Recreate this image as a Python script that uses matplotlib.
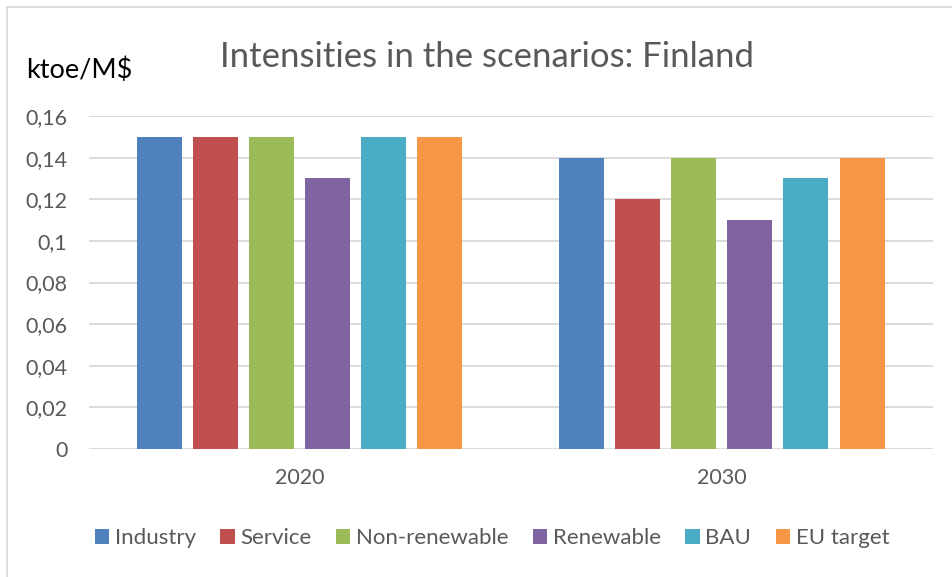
import matplotlib
matplotlib.use("Agg")
import matplotlib.pyplot as plt
import numpy as np

categories = ["2020", "2030"]
series = ["Industry", "Service", "Non-renewable", "Renewable", "BAU", "EU target"]
values = {
    "Industry": [0.15, 0.14],
    "Service": [0.15, 0.12],
    "Non-renewable": [0.15, 0.14],
    "Renewable": [0.13, 0.11],
    "BAU": [0.15, 0.13],
    "EU target": [0.15, 0.14],
}
colors = ["#4f81bd", "#c0504d", "#9bbb59", "#8064a2", "#4bacc6", "#f79646"]
yticks = [0, 0.02, 0.04, 0.06, 0.08, 0.1, 0.12, 0.14, 0.16]
ytick_labels = ["0", "0,02", "0,04", "0,06", "0,08", "0,1", "0,12", "0,14", "0,16"]

plt.rcParams['font.family'] = ['Lato', 'DejaVu Sans']
txt = "#595959"

fig = plt.figure(figsize=(9.53, 5.77), dpi=100)
W, H = 953, 577
ax = fig.add_axes([89 / W, 1 - 449 / H, (933 - 89) / W, (449 - 116) / H])

x = np.arange(len(categories))
step = 56 / 422
bw = 45 / 422
n = len(series)
for i, s in enumerate(series):
    off = (i - (n - 1) / 2) * step
    ax.bar(x + off, values[s], width=bw, color=colors[i], label=s, zorder=3)

ax.set_xlim(-0.5, 1.5)
ax.set_ylim(0, 0.16)
ax.set_yticks(yticks)
ax.set_yticklabels(ytick_labels)
ax.set_xticks(x)
ax.set_xticklabels(categories)
ax.grid(axis='y', color='#d9d9d9', linewidth=1.3, zorder=0)
for sp in ax.spines.values():
    sp.set_visible(False)
ax.tick_params(axis='both', length=0, labelsize=15.5, colors=txt)
ax.tick_params(axis='y', pad=15.5)
ax.tick_params(axis='x', pad=14)

fig.text(487 / W, 1 - 57 / H, "Intensities in the scenarios: Finland",
         ha='center', va='center', fontsize=25, color=txt)
fig.text(26 / W, 1 - 70 / H, "ktoe/M$", ha='left', va='center',
         fontsize=19.5, color='black')

leg = fig.legend(loc='center', bbox_to_anchor=(492 / W, 1 - 538 / H), ncol=6,
                 frameon=False, fontsize=16, handlelength=0.65, handleheight=0.65,
                 handletextpad=0.25, columnspacing=1.1)
for t in leg.get_texts():
    t.set_color(txt)

# outer border
fig.add_artist(plt.Line2D([7 / W, 7 / W], [0, 1 - 6.5 / H], transform=fig.transFigure,
                          color='#d9d9d9', linewidth=1.3))
fig.add_artist(plt.Line2D([7 / W, 1], [1 - 6.5 / H, 1 - 6.5 / H], transform=fig.transFigure,
                          color='#d9d9d9', linewidth=1.3))

fig.savefig("out.png", dpi=100)
